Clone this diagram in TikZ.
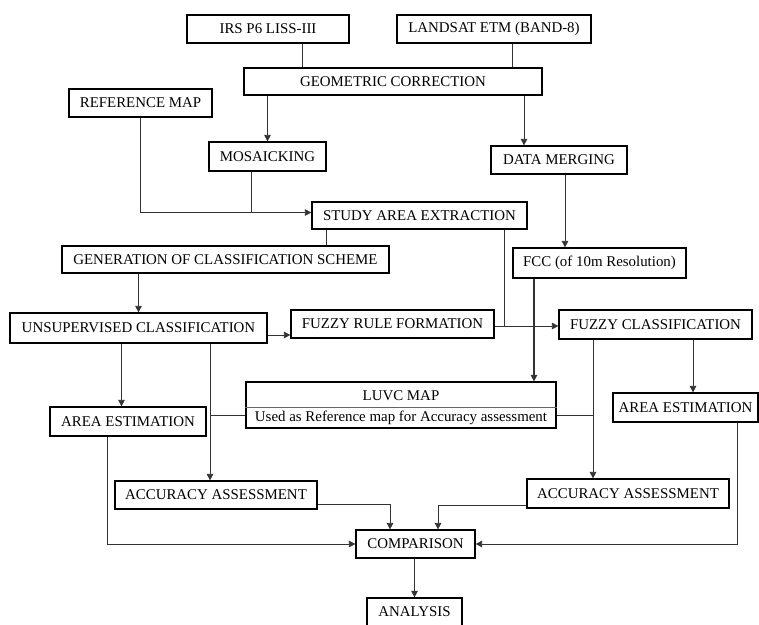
\documentclass[tikz,border=0pt]{standalone}
\usepackage{fontspec}
\setmainfont{Liberation Serif}
\usetikzlibrary{arrows.meta,calc}
\begin{document}
\begin{tikzpicture}[x=1pt,y=-1pt,
  box/.style={draw=black,line width=1.2pt,inner sep=0pt,font=\fontsize{14.9}{17}\selectfont},
  conn/.style={draw=black!80,line width=0.75pt},
  arr/.style={conn,-{Triangle[length=6.5pt,width=6.5pt]}},
  txt/.style={inner sep=0pt,font=\fontsize{14.9}{17}\selectfont}]
\useasboundingbox[fill=white] (0,0) rectangle (759,624);
% boxes
\node[box,minimum width=162pt,minimum height=28pt] (irs) at (268,29) {IRS P6 LISS-III};
\node[box,minimum width=194pt,minimum height=28pt] (landsat) at (494,29) {LANDSAT ETM (BAND-8)};
\node[box,minimum width=298pt,minimum height=27pt] (geo) at (393,81.5) {GEOMETRIC CORRECTION};
\node[box,minimum width=143pt,minimum height=28pt] (refmap) at (140.5,103) {REFERENCE MAP};
\node[box,minimum width=117pt,minimum height=29pt] (mosaic) at (267.5,156.5) {MOSAICKING};
\node[box,minimum width=136pt,minimum height=28pt] (merge) at (559,160) {DATA MERGING};
\node[box,minimum width=215pt,minimum height=27pt] (study) at (419.5,215.5) {STUDY AREA EXTRACTION};
\node[box,minimum width=327pt,minimum height=27pt] (gen) at (225.5,259.5) {GENERATION OF CLASSIFICATION SCHEME};
\node[box,minimum width=173pt,minimum height=30pt] (fcc) at (599.5,263) {FCC (of 10m Resolution)};
\node[box,minimum width=257pt,minimum height=30pt] (unsup) at (138.5,328) {UNSUPERVISED CLASSIFICATION};
\node[box,minimum width=203pt,minimum height=28pt] (rule) at (392.5,324) {FUZZY RULE FORMATION};
\node[box,minimum width=193pt,minimum height=29pt] (fuzzy) at (655.5,324.5) {FUZZY CLASSIFICATION};
\node[box,minimum width=310pt,minimum height=46pt] (luvc) at (401,405) {};
\draw[black!60,line width=0.9pt] (luvc.west |- 0,407) coordinate (dl) -- (dl -| luvc.east);
\node[txt] (luvct) at (401,396) {LUVC MAP};
\node[txt] (luvcs) at (401,418) {Used as Reference map for Accuracy assessment};
\node[box,minimum width=156pt,minimum height=29pt] (areaL) at (128,421.5) {AREA ESTIMATION};
\node[box,minimum width=145pt,minimum height=29pt] (areaR) at (685.5,407.5) {AREA ESTIMATION};
\node[box,minimum width=202pt,minimum height=28pt] (accL) at (216,495) {ACCURACY ASSESSMENT};
\node[box,minimum width=202pt,minimum height=29pt] (accR) at (628,493.5) {ACCURACY ASSESSMENT};
\node[box,minimum width=119pt,minimum height=28pt] (comp) at (415.5,544) {COMPARISON};
\node[box,minimum width=95pt,minimum height=28pt] (analysis) at (414.5,612) {ANALYSIS};
% connectors
\draw[conn] ([xshift=34pt]irs.south) coordinate (a1) -- (a1 |- geo.north);
\draw[conn] ([xshift=18pt]landsat.south) coordinate (a2) -- (a2 |- geo.north);
\draw[arr] (mosaic.north |- geo.south) -- (mosaic.north);
\draw[arr] ([xshift=-35pt]merge.north) coordinate (a3) ++(0,0) (a3 |- geo.south) -- (a3);
\draw[arr] (refmap.south) |- ([yshift=3pt]study.west);
\draw[conn] ([xshift=-16.5pt]mosaic.south) coordinate (a4) -- (a4 |- 0,212);
\draw[conn] ([xshift=-93.5pt]study.south) coordinate (a5) -- (a5 |- gen.north);
\draw[arr] (unsup.north |- gen.south) -- (unsup.north);
\draw[arr] ([yshift=-7pt]unsup.east) coordinate (a6) -- (a6 -| rule.west);
\draw[arr] ([xshift=6pt]merge.south) coordinate (a7) -- (a7 |- fcc.north);
\draw[conn] ([xshift=84.5pt]study.south) coordinate (a8) -- (a8 |- 0,326);
\draw[arr] ([yshift=-2pt]rule.east) coordinate (a9) -- (a9 -| fuzzy.west);
\draw[arr,line width=1.2pt] ([xshift=-65.5pt]fcc.south) coordinate (a10) -- (a10 |- luvc.north);
\draw[arr] ([xshift=-17pt]unsup.south) coordinate (a11) -- (a11 |- areaL.north);
\draw[arr] ([xshift=71.5pt]unsup.south) coordinate (a12) -- (a12 |- accL.north);
\draw[conn] ([yshift=-10pt]luvc.west) coordinate (a13) -- (a13 -| a12);
\draw[arr] ([xshift=7.5pt]areaR.north) coordinate (a14) ++(0,0) (a14 |- fuzzy.south) -- (a14);
\draw[arr] ([xshift=-62.5pt]fuzzy.south) coordinate (a15) -- (a15 |- accR.north);
\draw[conn] ([yshift=-10pt]luvc.east) coordinate (a16) -- (a16 -| a15);
\draw[arr] ([yshift=-9pt]accL.east) -| ([xshift=-25.5pt]comp.north);
\draw[arr] ([yshift=-11.5pt]accR.west) -| ([xshift=22.5pt]comp.north);
\draw[arr] ([xshift=-21pt]areaL.south) |- (comp.west);
\draw[arr] ([xshift=51.5pt]areaR.south) |- (comp.east);
\draw[arr,line width=1.2pt] (analysis.north |- comp.south) -- (analysis.north);
\end{tikzpicture}
\end{document}
